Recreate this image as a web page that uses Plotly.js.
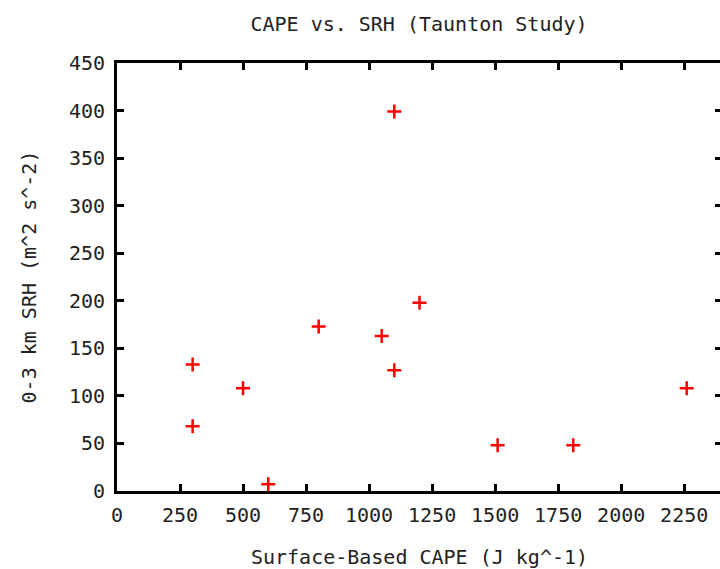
<!DOCTYPE html>
<html>
<head>
<meta charset="utf-8">
<script src="https://cdn.plot.ly/plotly-3.0.1.min.js"></script>
<style>
html,body{margin:0;padding:0;overflow:hidden;background:#fff;}
#chart{width:724px;height:569px;}
</style>
</head>
<body>
<div id="chart"></div>
<script>
const cape = [300, 300, 500, 600, 800, 1050, 1100, 1200, 1100, 1510, 1810, 2260];
const srh  = [133, 68, 108, 7, 173, 163, 127, 198, 399, 48, 48, 108];
const xTicks = [0, 250, 500, 750, 1000, 1250, 1500, 1750, 2000, 2250];
const yTicks = [0, 50, 100, 150, 200, 250, 300, 350, 400, 450];
const chartTitle = "CAPE vs. SRH (Taunton Study)";
const xTitle = "Surface-Based CAPE (J kg^-1)";
const yTitle = "0-3 km SRH (m^2 s^-2)";

const FONT = "DejaVu Sans Mono, Liberation Mono, monospace";
const axisCommon = {
  showgrid: false, zeroline: false,
  showline: true, linecolor: "#000", linewidth: 3,
  mirror: "ticks", ticks: "inside", ticklen: 7, tickwidth: 3, tickcolor: "#000",
  tickfont: {family: FONT, size: 20, color: "#222"}
};

const trace = {
  x: cape, y: srh, type: "scatter", mode: "markers",
  marker: {symbol: "cross-thin", size: 10, line: {color: "#ff0000", width: 2.5}, color: "#ff0000"},
  hoverinfo: "skip", showlegend: false
};

const layout = {
  width: 724, height: 569,
  margin: {l: 117, r: 2, t: 63, b: 78},
  paper_bgcolor: "#fff", plot_bgcolor: "#fff",
  font: {family: FONT, color: "#222"},
  title: {text: chartTitle, font: {family: FONT, size: 20, color: "#222"},
          x: 419/724, xanchor: "center", xref: "container", y: 1 - 24/569, yanchor: "middle", yref: "container"},
  xaxis: Object.assign({}, axisCommon, {
    range: [0, 2400], tickmode: "array", tickvals: xTicks, ticktext: xTicks.map(String), ticklabelstandoff: 4,
    title: {text: xTitle, font: {family: FONT, size: 20, color: "#222"}, standoff: 24}
  }),
  yaxis: Object.assign({}, axisCommon, {
    range: [0, 450], tickmode: "array", tickvals: yTicks, ticktext: yTicks.map(String), ticklabelstandoff: 5,
    title: {text: yTitle, font: {family: FONT, size: 20, color: "#222"}, standoff: 27}
  })
};

Plotly.newPlot("chart", [trace], layout, {displayModeBar: false, staticPlot: true});
</script>
</body>
</html>
